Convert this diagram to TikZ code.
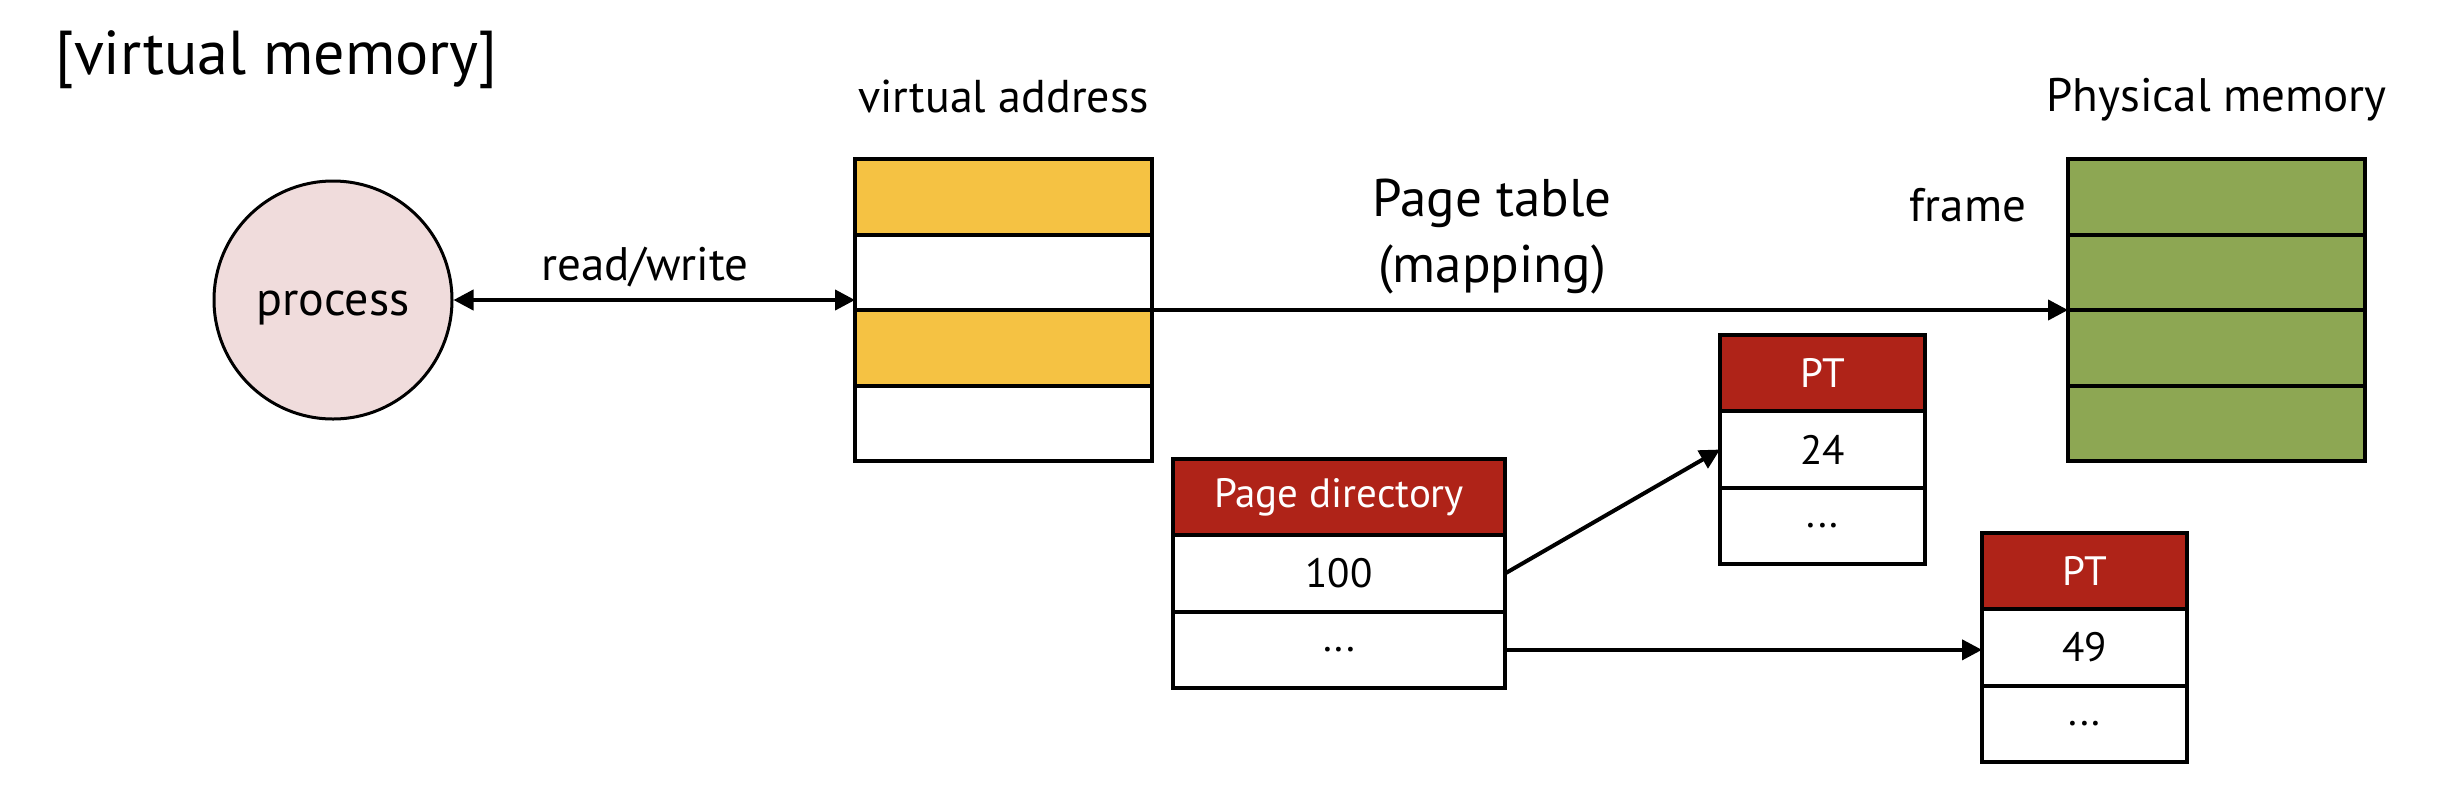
\documentclass[tikz,border=0pt]{standalone}
\usepackage{fontspec}
\setmainfont{PT Sans}
\usetikzlibrary{arrows.meta}
\definecolor{vyellow}{HTML}{F5C243}
\definecolor{pgreen}{HTML}{8DA753}
\definecolor{hred}{HTML}{AF2318}
\definecolor{ppink}{HTML}{F0DCDC}
\tikzset{
  cell/.style={draw=black, line width=4pt, inner sep=0pt, outer sep=0pt, minimum height=#1},
  vcell/.style={cell=75.5pt, minimum width=297pt},
  pdcell/.style={cell=76.33pt, minimum width=332pt},
  ptcell/.style={cell=76.33pt, minimum width=205pt},
  hdr/.style={fill=hred, text=white},
  lbl/.style={inner sep=0pt, font=\fontsize{46}{50}\selectfont},
  celltxt/.style={font=\fontsize{41}{45}\selectfont},
  arr/.style={line width=4pt, -{Triangle[length=20pt,width=20pt]}},
}
\begin{document}
\begin{tikzpicture}[x=1pt,y=-1pt]
\useasboundingbox (0,0) rectangle (2452,788);
% title
\node[lbl, anchor=west, font=\fontsize{62}{66}\selectfont] (title) at (55,60) {[virtual memory]};
% process
\node[circle, draw=black, line width=3pt, fill=ppink, minimum size=238pt, inner sep=0pt, text height=30pt, text depth=0pt, font=\fontsize{48}{52}\selectfont] (proc) at (333,300) {process};
% virtual address
\node[lbl] (vlab) at (1003.5,96) {virtual address};
\node[vcell, fill=vyellow] (v1) at (1003.5,196.75) {};
\node[vcell, fill=white]   (v2) at (1003.5,272.25) {};
\node[vcell, fill=vyellow] (v3) at (1003.5,347.75) {};
\node[vcell, fill=white]   (v4) at (1003.5,423.25) {};
% physical memory
\node[lbl, font=\fontsize{47}{51}\selectfont] (plab) at (2216.5,100) {Physical memory};
\node[vcell, fill=pgreen] (g1) at (2216.5,196.75) {};
\node[vcell, fill=pgreen] (g2) at (2216.5,272.25) {};
\node[vcell, fill=pgreen] (g3) at (2216.5,347.75) {};
\node[vcell, fill=pgreen] (g4) at (2216.5,423.25) {};
\node[lbl, font=\fontsize{47}{51}\selectfont] (frame) at (1968,205) {frame};
% page table label
\node[lbl, align=center, font=\fontsize{53}{66}\selectfont] (ptlab) at (1492,237) {Page table\\(mapping)};
% read/write
\node[lbl, font=\fontsize{47}{51}\selectfont] (rw) at (645,267) {read/write};
\draw[line width=4pt, {Triangle[length=20pt,width=20pt]}-{Triangle[length=20pt,width=20pt]}] (proc.east) -- (proc.east -| v2.west);
\draw[arr] (v2.south east) -- (g3.north west);
% page directory
\node[pdcell, hdr, celltxt] (pd0) at (1339,497.17) {Page directory};
\node[pdcell, celltxt] (pd1) at (1339,573.5) {100};
\node[pdcell, celltxt] (pd2) at (1339,649.83) {...};
% PT 1
\node[ptcell, hdr, celltxt] (ta0) at (1822.5,373.17) {PT};
\node[ptcell, celltxt] (ta1) at (1822.5,449.5) {24};
\node[ptcell, celltxt] (ta2) at (1822.5,525.83) {...};
% PT 2
\node[ptcell, hdr, celltxt] (tb0) at (2084.5,571.17) {PT};
\node[ptcell, celltxt] (tb1) at (2084.5,647.5) {49};
\node[ptcell, celltxt] (tb2) at (2084.5,723.83) {...};
% arrows
\draw[arr] (pd1.east) -- (ta1.west);
\draw[arr] (pd2.east) -- (pd2.east -| tb1.west);
\end{tikzpicture}
\end{document}
